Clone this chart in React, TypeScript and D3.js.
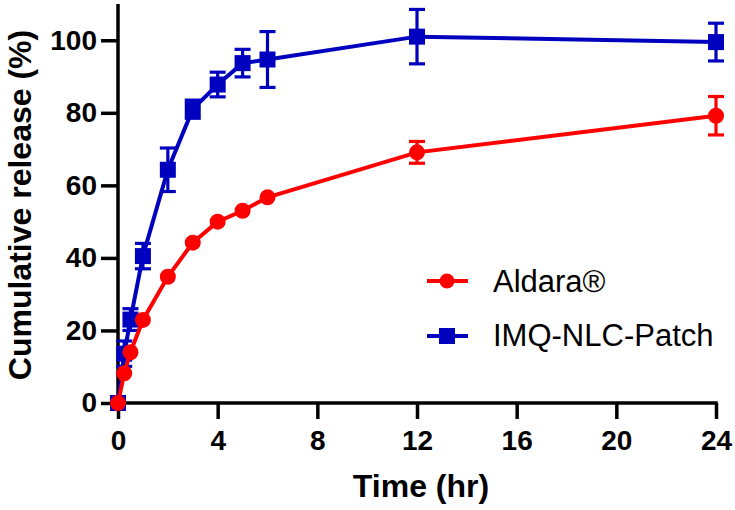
import React, { useEffect, useRef } from "react";
import * as d3 from "d3";

const times = [0, 0.25, 0.5, 1, 2, 3, 4, 5, 6, 12, 24];
const aldaraMean = [0, 8.2, 14.0, 22.9, 34.8, 44.2, 50.0, 53.0, 56.7, 69.1, 79.2];
const aldaraErr = [0, 0, 0, 0, 0, 0, 0, 0, 0, 3.0, 5.3];
const patchMean = [0, 13.6, 23.0, 40.5, 64.3, 81.0, 87.8, 93.7, 94.7, 101.0, 99.5];
const patchErr = [0, 3.5, 3.0, 3.5, 6.0, 2.5, 3.4, 3.8, 7.7, 7.5, 5.2];
const xTicks = [0, 4, 8, 12, 16, 20, 24];
const yTicks = [0, 20, 40, 60, 80, 100];
const seriesNames = ["Aldara®", "IMQ-NLC-Patch"];

const RED = "#ff0000";
const BLUE = "#0000bf";
const FONT = "'Liberation Sans', Arial, Helvetica, sans-serif";

export default function App() {
  const xAxisRef = useRef<SVGGElement>(null);
  const yAxisRef = useRef<SVGGElement>(null);

  const x = d3.scaleLinear().domain([0, 24]).range([118, 716]);
  const y = d3.scaleLinear().domain([0, 110]).range([403, 4]);

  useEffect(() => {
    if (xAxisRef.current) {
      const g = d3.select(xAxisRef.current);
      g.call(
        d3.axisBottom(x).tickValues(xTicks).tickSize(16).tickSizeOuter(0).tickPadding(11).tickFormat(d3.format("d"))
      );
      g.select(".domain").attr("stroke", "#000").attr("stroke-width", 3.5).attr("d", `M${x(0) - 1.75},0H${x(24) + 1.75}`);
      g.selectAll(".tick line").attr("stroke", "#000").attr("stroke-width", 3.5);
      g.selectAll(".tick text")
        .attr("fill", "#000")
        .style("font-family", FONT)
        .style("font-weight", "bold")
        .style("font-size", "28px");
    }
    if (yAxisRef.current) {
      const g = d3.select(yAxisRef.current);
      g.call(
        d3.axisLeft(y).tickValues(yTicks).tickSize(17).tickSizeOuter(0).tickPadding(4).tickFormat(d3.format("d"))
      );
      g.select(".domain").attr("stroke", "#000").attr("stroke-width", 3.5).attr("d", `M0,${y(0) + 1.75}V${y(110)}`);
      g.selectAll(".tick line").attr("stroke", "#000").attr("stroke-width", 3.5);
      g.selectAll(".tick text")
        .attr("fill", "#000")
        .style("font-family", FONT)
        .style("font-weight", "bold")
        .style("font-size", "28px");
    }
  });

  const line = d3
    .line<[number, number]>()
    .x((d) => x(d[0]))
    .y((d) => y(d[1]));

  const aldaraPts: [number, number][] = times.map((t, i) => [t, aldaraMean[i]]);
  const patchPts: [number, number][] = times.map((t, i) => [t, patchMean[i]]);

  const errBars = (means: number[], errs: number[], color: string) =>
    times.map((t, i) => {
      if (errs[i] <= 0) return null;
      const cx = x(t);
      const y1 = y(means[i] + errs[i]);
      const y2 = y(means[i] - errs[i]);
      const cw = 8;
      return (
        <g key={`e${color}${i}`} stroke={color} strokeWidth={3.2} fill="none">
          <line x1={cx} x2={cx} y1={y1} y2={y2} />
          <line x1={cx - cw} x2={cx + cw} y1={y1} y2={y1} />
          <line x1={cx - cw} x2={cx + cw} y1={y2} y2={y2} />
        </g>
      );
    });

  const sq = 16;
  const r = 8;

  return (
    <svg
      width={735}
      height={510}
      style={{ position: "absolute", left: 0, top: 0, background: "#fff" }}
    >
      <rect x={0} y={0} width={735} height={510} fill="#fff" />
      <g ref={xAxisRef} transform={`translate(0,${y(0)})`} />
      <g ref={yAxisRef} transform={`translate(${x(0)},0)`} />

      {/* IMQ-NLC-Patch */}
      <path d={line(patchPts) || ""} fill="none" stroke={BLUE} strokeWidth={4} />
      {errBars(patchMean, patchErr, BLUE)}
      {patchPts.map((p, i) => (
        <rect key={`s${i}`} x={x(p[0]) - sq / 2} y={y(p[1]) - sq / 2} width={sq} height={sq} fill={BLUE} />
      ))}

      {/* Aldara */}
      <path d={line(aldaraPts) || ""} fill="none" stroke={RED} strokeWidth={4} />
      {errBars(aldaraMean, aldaraErr, RED)}
      {aldaraPts.map((p, i) => (
        <circle key={`c${i}`} cx={x(p[0])} cy={y(p[1])} r={r} fill={RED} />
      ))}

      {/* Legend */}
      <g>
        <line x1={427} x2={468} y1={281} y2={281} stroke={RED} strokeWidth={4} />
        <circle cx={447} cy={281} r={7.5} fill={RED} />
        <text x={493} y={292} fontFamily={FONT} fontSize={31} fill="#000">
          {seriesNames[0]}
        </text>
        <line x1={427} x2={468} y1={336} y2={336} stroke={BLUE} strokeWidth={4} />
        <rect x={447 - 8} y={336 - 8} width={16} height={16} fill={BLUE} />
        <text x={493} y={346} fontFamily={FONT} fontSize={31} fill="#000">
          {seriesNames[1]}
        </text>
      </g>

      {/* Axis titles */}
      <text
        x={421}
        y={497}
        textAnchor="middle"
        fontFamily={FONT}
        fontWeight="bold"
        fontSize={32}
        fill="#000"
      >
        Time (hr)
      </text>
      <text
        transform={`translate(31,205) rotate(-90)`}
        textAnchor="middle"
        fontFamily={FONT}
        fontWeight="bold"
        fontSize={32}
        fill="#000"
      >
        Cumulative release (%)
      </text>
    </svg>
  );
}
